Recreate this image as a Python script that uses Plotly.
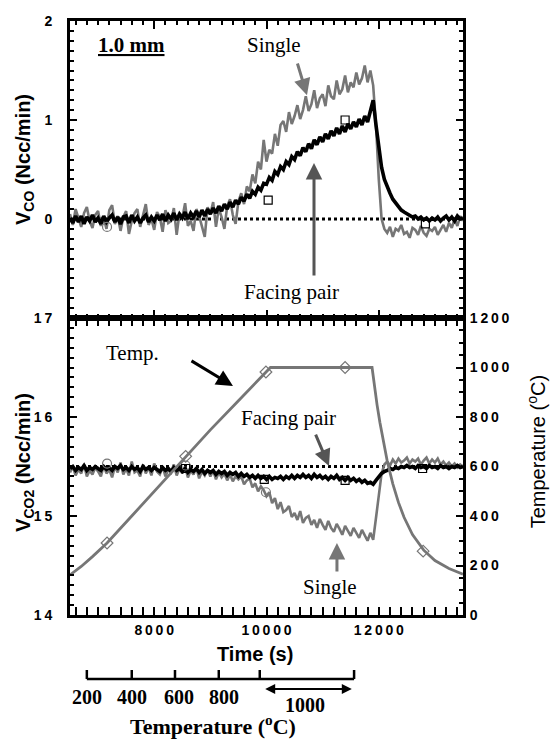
import plotly.graph_objects as go

# ---------------- data ----------------
time_s = list(range(6500, 13501, 50))

co_single = [
    0.05, -0.06, 0.10, 0.02, -0.08, 0.06, 0.12, -0.02, -0.09, 0.04,
    0.08, -0.07, 0.01, -0.10, 0.09, 0.14, -0.05, 0.03, -0.12, 0.02,
    0.08, -0.15, -0.02, 0.06, 0.10, -0.08, 0.03, 0.15, -0.06, 0.00,
    -0.11, 0.07, 0.02, -0.13, 0.09, -0.04, -0.02, 0.11, -0.16, 0.06,
    0.01, 0.16, -0.07, -0.02, -0.12, 0.10, 0.03, -0.09, -0.18, 0.12,
    0.05, 0.17, -0.08, 0.11, 0.02, -0.10, 0.13, 0.20, 0.04, -0.05,
    0.18, 0.26, 0.15, 0.33, 0.28, 0.45, 0.36, 0.58, 0.50, 0.80,
    0.58, 0.70, 0.66, 0.86, 0.74, 0.95, 0.99, 0.88, 1.08, 0.96,
    1.04, 1.15, 1.01, 1.10, 1.24, 1.09, 1.16, 1.30, 1.12, 1.22,
    1.26, 1.14, 1.35, 1.24, 1.21, 1.40, 1.26, 1.31, 1.45, 1.28,
    1.38, 1.33, 1.48, 1.36, 1.42, 1.55, 1.38, 1.50,
    1.35, 0.95, 0.40, 0.00, -0.10,
    -0.14, -0.08, -0.18, -0.10, -0.12, -0.06, -0.15,
    -0.13, -0.19, -0.09, -0.11, -0.16, -0.07, -0.14, -0.17, -0.10, -0.12,
    -0.08, -0.16, -0.11, -0.06, -0.13, -0.04, -0.09, 0.00, -0.07, 0.03, -0.02,
]

co_pair = [
    0.01, -0.04, 0.03, -0.03, 0.03, -0.05, 0.02, -0.02, 0.04, -0.03,
    0.01, -0.05, 0.03, -0.03, 0.01, 0.04, -0.03, 0.02, -0.05, 0.02,
    0.03, -0.04, 0.04, -0.02, 0.02, -0.04, 0.01, 0.04, -0.03, 0.02,
    -0.02, 0.04, -0.01, 0.05, -0.02, 0.04, 0.00, 0.06, -0.01, 0.05,
    0.01, 0.07, 0.00, 0.06, 0.02, 0.08, 0.02, 0.09, 0.03, 0.10,
    0.05, 0.11, 0.06, 0.13, 0.08, 0.15, 0.10, 0.17, 0.12, 0.19,
    0.15, 0.22, 0.18, 0.25, 0.21, 0.28, 0.25, 0.32, 0.29, 0.36,
    0.35, 0.42, 0.39, 0.48, 0.45, 0.53, 0.50, 0.58, 0.55, 0.63,
    0.60, 0.68, 0.64, 0.72, 0.68, 0.76, 0.71, 0.80, 0.75, 0.83,
    0.78, 0.86, 0.81, 0.89, 0.84, 0.92, 0.86, 0.94, 0.88, 0.96,
    0.91, 0.98, 0.93, 1.01, 0.95, 1.04, 0.98, 1.10,
    1.20, 0.95, 0.70, 0.52, 0.40,
    0.32, 0.26, 0.20, 0.16, 0.12, 0.09, 0.07,
    0.05, 0.04, 0.02, 0.03, 0.00, 0.02, -0.01, 0.01, -0.02, 0.01,
    -0.01, 0.02, -0.02, 0.01, 0.03, -0.01, 0.02, -0.02, 0.03, 0.00, 0.01,
]

co2_single = [
    15.44, 15.50, 15.41, 15.47, 15.43, 15.52, 15.40, 15.46, 15.42, 15.49,
    15.45, 15.40, 15.51, 15.43, 15.47, 15.39, 15.50, 15.44, 15.54, 15.42,
    15.48, 15.41, 15.55, 15.44, 15.46, 15.40, 15.52, 15.43, 15.49, 15.41,
    15.53, 15.45, 15.42, 15.50, 15.40, 15.47, 15.44, 15.52, 15.41, 15.48,
    15.43, 15.50, 15.39, 15.46, 15.42, 15.49, 15.38, 15.45, 15.41, 15.47,
    15.40, 15.46, 15.37, 15.44, 15.39, 15.43, 15.36, 15.42, 15.35, 15.40,
    15.37, 15.40, 15.32, 15.36, 15.38, 15.29, 15.33, 15.25, 15.30, 15.26,
    15.20, 15.24, 15.13, 15.18, 15.07, 15.14, 15.04, 15.06, 15.10, 14.99,
    15.03, 14.96, 15.05, 14.93, 14.98, 15.00, 14.91, 14.96, 14.88, 14.97,
    14.91, 14.86, 14.95, 14.88, 14.84, 14.92, 14.87, 14.81, 14.90, 14.85,
    14.80, 14.88, 14.83, 14.78, 14.86, 14.80, 14.75, 14.83,
    14.76, 14.98, 15.22, 15.43, 15.52,
    15.55, 15.51, 15.57, 15.53, 15.58, 15.54, 15.56,
    15.59, 15.53, 15.57, 15.55, 15.58, 15.52, 15.56, 15.59, 15.53, 15.57,
    15.54, 15.58, 15.52, 15.55, 15.51, 15.54, 15.50, 15.53, 15.49, 15.52, 15.50,
]

co2_pair = [
    15.48, 15.50, 15.46, 15.49, 15.47, 15.51, 15.46, 15.49, 15.47, 15.50,
    15.48, 15.46, 15.50, 15.47, 15.49, 15.46, 15.50, 15.48, 15.51, 15.47,
    15.49, 15.46, 15.50, 15.47, 15.49, 15.45, 15.50, 15.47, 15.49, 15.46,
    15.49, 15.47, 15.45, 15.49, 15.46, 15.48, 15.45, 15.49, 15.46, 15.48,
    15.45, 15.48, 15.44, 15.47, 15.45, 15.48, 15.44, 15.47, 15.43, 15.46,
    15.44, 15.46, 15.42, 15.45, 15.43, 15.45, 15.41, 15.44, 15.42, 15.44,
    15.40, 15.43, 15.40, 15.42, 15.39, 15.41, 15.38, 15.41, 15.38, 15.40,
    15.37, 15.40, 15.37, 15.39, 15.38, 15.40, 15.37, 15.40, 15.38, 15.41,
    15.38, 15.41, 15.39, 15.42, 15.39, 15.41, 15.38, 15.42, 15.39, 15.41,
    15.38, 15.40, 15.37, 15.40, 15.38, 15.41, 15.37, 15.39, 15.36, 15.39,
    15.36, 15.38, 15.35, 15.37, 15.34, 15.36, 15.33, 15.34,
    15.32, 15.36, 15.40, 15.43, 15.45,
    15.46, 15.48, 15.47, 15.49, 15.48, 15.50, 15.49,
    15.51, 15.49, 15.50, 15.48, 15.51, 15.49, 15.50, 15.48, 15.51, 15.49,
    15.50, 15.48, 15.51, 15.49, 15.50, 15.48, 15.50, 15.49, 15.51, 15.49, 15.50,
]

temp_time = [6500, 6700, 6900, 7160, 7600, 8100, 8548, 9000, 9500, 9990, 10070,
             11880, 11920, 11970, 12020, 12080, 12150, 12250, 12350, 12450,
             12600, 12800, 13000, 13250, 13500]
temp_c = [162, 196, 236, 291, 400, 525, 638, 748, 866, 982, 1000,
          1000, 925, 848, 778, 700, 622, 530, 455, 395,
          325, 262, 220, 188, 165]

# marker symbols on the curves
co_single_mk_t = [7160]
co_single_mk_v = [-0.08]
co_pair_mk_t = [10030, 11400, 12830]
co_pair_mk_v = [0.19, 1.00, -0.05]
co2_single_mk_t = [7160, 8560, 9990]
co2_single_mk_v = [15.53, 15.51, 15.24]
co2_pair_mk_t = [8560, 9960, 11400, 12780]
co2_pair_mk_v = [15.48, 15.37, 15.36, 15.48]
temp_mk_t = [7160, 8560, 9990, 11400, 12790]
temp_mk_v = [291, 641, 982, 1000, 258]

baseline_co = 0.0
baseline_co2 = 15.5

x_tick_vals = [8000, 10000, 12000]
y_top_ticks = [0, 1, 2]
y_bot_ticks = [14, 15, 16, 17]
y_temp_ticks = [0, 200, 400, 600, 800, 1000, 1200]

# secondary temperature scale drawn below the time axis
scale_times = [6800, 7600, 8370, 9150, 9880, 11560]
scale_labels = ["200", "400", "600", "800"]

assert all(len(s) == len(time_s) for s in [co_single, co_pair, co2_single, co2_pair])

# ---------------- figure ----------------
GRAY = "#767676"
DGRAY = "#555555"
SANS = "Liberation Sans"
SERIF = "Liberation Serif"


def spaced(s):
    return "\u2009".join(str(s))


fig = go.Figure()

x_all = [time_s[0], time_s[-1]]
# top panel
fig.add_trace(go.Scatter(x=x_all, y=[baseline_co, baseline_co], xaxis="x", yaxis="y",
                         mode="lines", line=dict(color="black", width=3, dash="3px,3px")))
fig.add_trace(go.Scatter(x=time_s, y=co_single, xaxis="x", yaxis="y", mode="lines",
                         line=dict(color=GRAY, width=2.6)))
fig.add_trace(go.Scatter(x=time_s, y=co_pair, xaxis="x", yaxis="y", mode="lines",
                         line=dict(color="black", width=3.6)))
fig.add_trace(go.Scatter(x=co_single_mk_t, y=co_single_mk_v, xaxis="x", yaxis="y", mode="markers",
                         marker=dict(symbol="circle-open", size=9, color=GRAY, line=dict(width=1.2))))
fig.add_trace(go.Scatter(x=co_pair_mk_t, y=co_pair_mk_v, xaxis="x", yaxis="y", mode="markers",
                         marker=dict(symbol="square-open", size=8, color="black", line=dict(width=1.2))))

# bottom panel
fig.add_trace(go.Scatter(x=x_all, y=[baseline_co2, baseline_co2], xaxis="x2", yaxis="y2",
                         mode="lines", line=dict(color="black", width=3, dash="3px,3px")))
fig.add_trace(go.Scatter(x=time_s, y=co2_single, xaxis="x2", yaxis="y2", mode="lines",
                         line=dict(color=GRAY, width=2.6)))
fig.add_trace(go.Scatter(x=time_s, y=co2_pair, xaxis="x2", yaxis="y2", mode="lines",
                         line=dict(color="black", width=3.6)))
fig.add_trace(go.Scatter(x=co2_single_mk_t, y=co2_single_mk_v, xaxis="x2", yaxis="y2", mode="markers",
                         marker=dict(symbol="circle-open", size=9, color=GRAY, line=dict(width=1.2))))
fig.add_trace(go.Scatter(x=co2_pair_mk_t, y=co2_pair_mk_v, xaxis="x2", yaxis="y2", mode="markers",
                         marker=dict(symbol="square-open", size=8, color="black", line=dict(width=1.2))))
fig.add_trace(go.Scatter(x=temp_time, y=temp_c, xaxis="x2", yaxis="y3", mode="lines",
                         line=dict(color=GRAY, width=2.8)))
fig.add_trace(go.Scatter(x=temp_mk_t, y=temp_mk_v, xaxis="x2", yaxis="y3", mode="markers",
                         marker=dict(symbol="diamond-open", size=9, color=GRAY, line=dict(width=1.2))))

tickfont = dict(family=SANS, size=14, color="black", weight="bold")
minor_x = dict(dtick=200, tick0=8000, ticklen=4, tickwidth=1.5, tickcolor="black", ticks="inside")
common_x = dict(range=[6500, 13500], showline=True, linewidth=3, linecolor="black",
                mirror="allticks", ticks="inside", ticklen=8, tickwidth=2, tickcolor="black",
                tickvals=x_tick_vals, ticktext=[spaced(v) for v in x_tick_vals],
                showgrid=False, zeroline=False, minor=minor_x, tickfont=tickfont)

fig.update_layout(
    width=551, height=740,
    margin=dict(l=70, r=88, t=21, b=125),
    paper_bgcolor="white", plot_bgcolor="white",
    showlegend=False,
    xaxis=dict(domain=[0, 1], anchor="y", showticklabels=False, **common_x),
    xaxis2=dict(domain=[0, 1], anchor="y2", matches="x", showticklabels=True,
                ticklabelstandoff=0, **common_x),
    yaxis=dict(domain=[0.5, 1], anchor="x", range=[-1, 2], showline=True, linewidth=3,
               linecolor="black", mirror="allticks", ticks="inside", ticklen=7, tickwidth=2,
               tickcolor="black", tickvals=y_top_ticks, ticktext=[spaced(v) for v in y_top_ticks],
               tickfont=tickfont, ticklabelstandoff=12, showgrid=False, zeroline=False,
               minor=dict(dtick=0.1, ticklen=4, tickwidth=1.5, tickcolor="black", ticks="inside")),
    yaxis2=dict(domain=[0, 0.5], anchor="x2", range=[14, 17], showline=True, linewidth=3,
                linecolor="black", mirror=True, ticks="inside", ticklen=7, tickwidth=2,
                tickcolor="black", tickvals=y_bot_ticks, ticktext=[spaced(v) for v in y_bot_ticks],
                tickfont=tickfont, ticklabelstandoff=12, showgrid=False, zeroline=False,
                minor=dict(dtick=0.1, ticklen=4, tickwidth=1.5, tickcolor="black", ticks="inside")),
    yaxis3=dict(overlaying="y2", side="right", anchor="x2", range=[0, 1200], showline=True,
                linewidth=3, linecolor="black", ticks="inside", ticklen=7, tickwidth=2,
                tickcolor="black", tickvals=y_temp_ticks,
                ticktext=[spaced(v) for v in y_temp_ticks], tickfont=tickfont,
                ticklabelstandoff=1, showgrid=False, zeroline=False,
                minor=dict(dtick=50, ticklen=4, tickwidth=1.5, tickcolor="black", ticks="inside")),
)

serif = dict(family=SERIF, size=21, color="black")
C = dict(xanchor="center", yanchor="middle")
ann = []
# axis titles
ann.append(dict(text="<b>V<sub>CO</sub> (Ncc/min)</b>", xref="paper", yref="paper",
                x=-0.1145, y=0.766, textangle=-90, showarrow=False,
                font=dict(family=SANS, size=20, color="black"), **C))
ann.append(dict(text="<b>V<sub>CO2</sub> (Ncc/min)</b>", xref="paper", yref="paper",
                x=-0.1145, y=0.256, textangle=-90, showarrow=False,
                font=dict(family=SANS, size=20, color="black"), **C))
ann.append(dict(text="Temperature (<sup>o</sup>C)", xref="paper", yref="paper",
                x=1.186, y=0.274, textangle=-90, showarrow=False,
                font=dict(family=SANS, size=20, color="black"), **C))
ann.append(dict(text="<b>Time (s)</b>", xref="paper", yref="paper", x=0.471, y=-0.066,
                showarrow=False, font=dict(family=SANS, size=20, color="black"), **C))

# in-plot labels
ann.append(dict(text="<b><u>1.0 mm</u></b>", xref="x", yref="y", x=7587, y=1.76,
                showarrow=False, font=serif, **C))
ann.append(dict(text="Single", xref="x", yref="y", x=10133, y=1.76, showarrow=False, font=serif, **C))
ann.append(dict(text="", xref="x", yref="y", x=10721, y=1.25, ax=10543, ay=1.586,
                axref="x", ayref="y", showarrow=True, arrowhead=2, arrowsize=1.1,
                arrowwidth=3, arrowcolor=GRAY))
ann.append(dict(text="Facing pair", xref="x", yref="y", x=10454, y=-0.737, showarrow=False,
                font=serif, **C))
ann.append(dict(text="", xref="x", yref="y", x=10846, y=0.566, ax=10846, ay=-0.586,
                axref="x", ayref="y", showarrow=True, arrowhead=2, arrowsize=1.1,
                arrowwidth=3, arrowcolor=DGRAY))
ann.append(dict(text="Temp.", xref="x2", yref="y2", x=7622, y=16.646, showarrow=False, font=serif, **C))
ann.append(dict(text="", xref="x2", yref="y2", x=9403, y=16.313, ax=8637, ay=16.576,
                axref="x2", ayref="y2", showarrow=True, arrowhead=2, arrowsize=1.1,
                arrowwidth=3, arrowcolor="black"))
ann.append(dict(text="Facing pair", xref="x2", yref="y2", x=10400, y=15.99, showarrow=False,
                font=serif, **C))
ann.append(dict(text="", xref="x2", yref="y2", x=11113, y=15.505, ax=10864, ay=15.838,
                axref="x2", ayref="y2", showarrow=True, arrowhead=2, arrowsize=1.1,
                arrowwidth=3, arrowcolor=DGRAY))
ann.append(dict(text="Single", xref="x2", yref="y2", x=11131, y=14.283, showarrow=False,
                font=serif, **C))
ann.append(dict(text="", xref="x2", yref="y2", x=11255, y=14.727, ax=11255, ay=14.424,
                axref="x2", ayref="y2", showarrow=True, arrowhead=2, arrowsize=1.1,
                arrowwidth=3, arrowcolor=GRAY))

# temperature scale below the axis
scale_y = -0.1077
tick_top = -0.0926
bold_serif = dict(family=SERIF, size=20, color="black", weight="bold")
label_offsets = [0, 0, 80, 100]
for t, lab, off in zip(scale_times[:4], scale_labels, label_offsets):
    ann.append(dict(text=lab, xref="x2", yref="paper", x=t + off, y=-0.138, showarrow=False,
                    font=bold_serif, **C))
ann.append(dict(text="", xref="x2", yref="paper", x=scale_times[5] - 40, y=-0.1246,
                ax=scale_times[4] + 70, ay=0, axref="x2", ayref="pixel",
                showarrow=True, arrowhead=2, startarrowhead=2, arrowside="end+start",
                arrowsize=1.0, arrowwidth=2, arrowcolor="black"))
ann.append(dict(text="1000", xref="x2", yref="paper", x=10686, y=-0.1515, showarrow=False,
                font=bold_serif, **C))
ann.append(dict(text="Temperature (<sup>o</sup>C)", xref="x2", yref="paper", x=9047, y=-0.186,
                showarrow=False, font=dict(family=SERIF, size=22, color="black", weight="bold"), **C))

shapes = [dict(type="line", xref="x2", yref="paper", x0=scale_times[0], x1=scale_times[-1],
               y0=scale_y, y1=scale_y, line=dict(color="black", width=2.5))]
for t in scale_times:
    shapes.append(dict(type="line", xref="x2", yref="paper", x0=t, x1=t, y0=scale_y, y1=tick_top,
                       line=dict(color="black", width=2.5)))

fig.update_layout(annotations=ann, shapes=shapes)

fig.write_html("out.html")
